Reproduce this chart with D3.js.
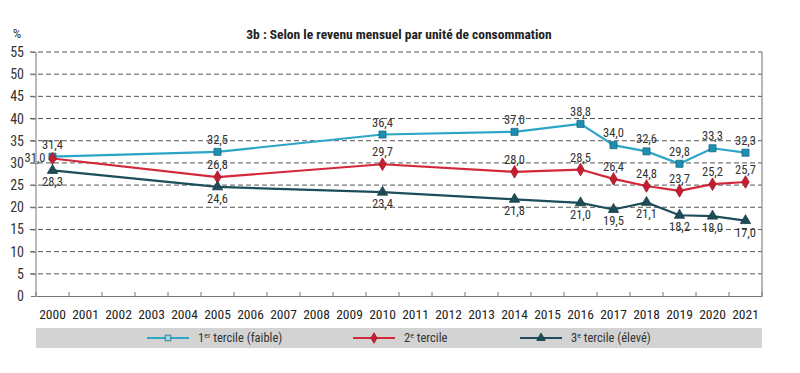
<!DOCTYPE html>
<html>
<head>
<meta charset="utf-8">
<script src="https://cdn.jsdelivr.net/npm/d3@7"></script>
<style>
  body { margin: 0; background: #fff; }
  text { font-family: "Liberation Sans Narrow", "Roboto Condensed", "Arial Narrow", sans-serif; }
</style>
</head>
<body>
<div id="chart"></div>
<script>
var years = ["2000","2001","2002","2003","2004","2005","2006","2007","2008","2009","2010",
             "2011","2012","2013","2014","2015","2016","2017","2018","2019","2020","2021"]
var obsYears = ["2000","2005","2010","2014","2016","2017","2018","2019","2020","2021"]
var tercile1 = [31.4, 32.5, 36.4, 37.0, 38.8, 34.0, 32.6, 29.8, 33.3, 32.3]
var tercile2 = [31.0, 26.8, 29.7, 28.0, 28.5, 26.4, 24.8, 23.7, 25.2, 25.7]
var tercile3 = [28.3, 24.6, 23.4, 21.8, 21.0, 19.5, 21.1, 18.2, 18.0, 17.0]
var yTicks = [0, 5, 10, 15, 20, 25, 30, 35, 40, 45, 50, 55]
var seriesNames = ["1er tercile (faible)", "2e tercile", "3e tercile (élevé)"]

var svgw = 800, svgh = 373
var margin = {top: 52, left: 36, right: 38, bottom: 77}
var w = svgw - margin.left - margin.right
var h = svgh - margin.top - margin.bottom

var svg = d3.select('#chart').append('svg')
  .attr('width', svgw).attr('height', svgh)

var g = svg.append('g').attr('transform', 'translate(' + margin.left + ',' + margin.top + ')')

var x = d3.scaleBand().domain(years).range([0, w])
var y = d3.scaleLinear().domain([0, 55]).range([h, 0])
function cx(yr) { return x(yr) + x.bandwidth() / 2 }

// title
svg.append('text').attr('x', 399).attr('y', 39).attr('text-anchor', 'middle')
  .style('font-size', '13.5px').style('font-weight', 'bold').attr('fill', '#222')
  .text('3b : Selon le revenu mensuel par unité de consommation')
svg.append('text').attr('x', 17).attr('y', 38).attr('text-anchor', 'middle')
  .style('font-size', '13.5px').attr('fill', '#333').text('%')

// grid
g.selectAll('.grid').data(yTicks.filter(function(d){ return d > 0 }))
  .enter().append('line')
  .attr('x1', -6).attr('x2', w)
  .attr('y1', function(d){ return y(d) }).attr('y2', function(d){ return y(d) })
  .attr('stroke', '#555').attr('stroke-width', 1).attr('stroke-dasharray', '5,3')

// right border
g.append('line').attr('x1', w).attr('x2', w).attr('y1', 0).attr('y2', h)
  .attr('stroke', '#888').attr('stroke-width', 1.2)

// y axis
var yAxis = g.append('g').call(d3.axisLeft(y).tickValues(yTicks).tickSize(5).tickPadding(7))
yAxis.select('.domain').attr('stroke', '#777').attr('d', 'M0,' + h + 'V0')
yAxis.selectAll('.tick line').attr('stroke', '#777')
yAxis.selectAll('text').style('font-size', '14px').attr('fill', '#333')
  .style('font-family', '"Liberation Sans Narrow", "Roboto Condensed", sans-serif')

// x axis
var xAxis = g.append('g').attr('transform', 'translate(0,' + h + ')')
  .call(d3.axisBottom(x).tickSize(0).tickPadding(13))
xAxis.select('.domain').attr('stroke', '#777')
xAxis.selectAll('text').style('font-size', '13.5px').attr('fill', '#222')
  .style('font-family', '"Liberation Sans Narrow", "Roboto Condensed", sans-serif')
g.selectAll('.xtick').data(years.concat(['end'])).enter().append('line')
  .attr('x1', function(d,i){ return i * x.bandwidth() })
  .attr('x2', function(d,i){ return i * x.bandwidth() })
  .attr('y1', h).attr('y2', h - 4).attr('stroke', '#777')

var series = [
  {name: seriesNames[0], values: tercile1, color: '#2ba6c6', fill: '#1e8fb0', stroke: '#1a6d85', shape: d3.symbolSquare, labelPos: 'above'},
  {name: seriesNames[1], values: tercile2, color: '#d3283a', fill: '#c41e30', stroke: '#9e1626', shape: d3.symbolDiamond, labelPos: 'above'},
  {name: seriesNames[2], values: tercile3, color: '#1c4d59', fill: '#1c4d59', stroke: '#163d46', shape: d3.symbolTriangle, labelPos: 'below'}
]

var line = d3.line().x(function(d){ return cx(d.year) }).y(function(d){ return y(d.v) })

series.forEach(function(s){
  var pts = obsYears.map(function(yr, i){ return {year: yr, v: s.values[i]} })
  g.append('path').datum(pts).attr('d', line)
    .attr('fill', 'none').attr('stroke', s.color).attr('stroke-width', 2.2)
  g.selectAll(null).data(pts).enter().append('path')
    .attr('d', d3.symbol().type(s.shape).size(s.shape === d3.symbolSquare ? 50 : 46))
    .attr('transform', function(d){ return 'translate(' + cx(d.year) + ',' + y(d.v) + ')' })
    .attr('fill', s.fill).attr('stroke', s.stroke).attr('stroke-width', 0.8)
})

// value labels
series.forEach(function(s, si){
  var pts = obsYears.map(function(yr, i){ return {year: yr, v: s.values[i]} })
  g.selectAll(null).data(pts).enter().append('text')
    .attr('x', function(d){ return (si === 1 && d.year === '2000') ? cx(d.year) - 7 : cx(d.year) })
    .attr('y', function(d){
      if (si === 1 && d.year === '2000') return y(d.v) + 4
      return s.labelPos === 'above' ? y(d.v) - 8 : y(d.v) + 16
    })
    .attr('text-anchor', function(d){ return (si === 1 && d.year === '2000') ? 'end' : 'middle' })
    .style('font-size', '12.5px').attr('fill', '#333')
    .text(function(d){ return d3.format('.1f')(d.v).replace('.', ',') })
})

// legend
var legY = h + 42
g.append('rect').attr('x', 0).attr('y', legY - 10).attr('width', w).attr('height', 20)
  .attr('fill', '#d3d3d3')
var legX = [111, 317, 484]
series.forEach(function(s, i){
  var lg = g.append('g').attr('transform', 'translate(' + legX[i] + ',' + legY + ')')
  lg.append('line').attr('x1', 0).attr('x2', 42).attr('y1', 0).attr('y2', 0)
    .attr('stroke', s.color).attr('stroke-width', 2)
  lg.append('path').attr('d', d3.symbol().type(s.shape).size(32))
    .attr('transform', 'translate(21,0)')
    .attr('fill', i === 0 ? '#9fd4e3' : s.fill).attr('stroke', s.stroke).attr('stroke-width', 0.8)
  var t = lg.append('text').attr('x', 51).attr('y', 4).style('font-size', '12.5px').attr('fill', '#333')
  var sup = ['er', 'e', 'e'][i]
  var rest = s.name.slice(1 + sup.length)
  t.append('tspan').text(s.name[0])
  t.append('tspan').attr('dy', -4).style('font-size', '8px').text(sup)
  t.append('tspan').attr('dy', 4).text(rest)
})
</script>
</body>
</html>
